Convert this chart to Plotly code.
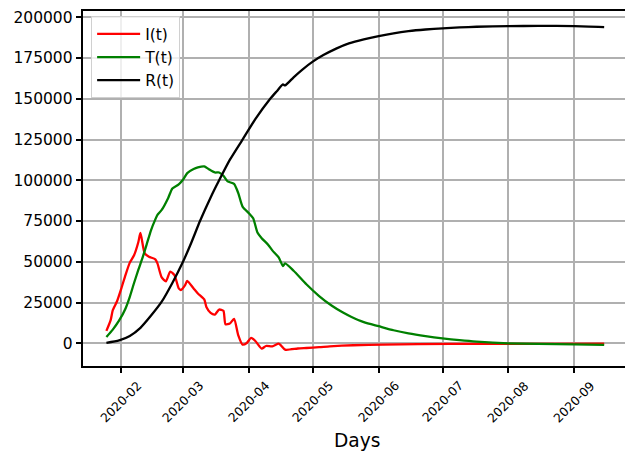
import plotly.graph_objects as go

# ---- data ----
dates_I = ["2020-01-25","2020-01-27","2020-01-28","2020-01-30","2020-02-01","2020-02-03","2020-02-05",
           "2020-02-07","2020-02-09","2020-02-10","2020-02-12","2020-02-14","2020-02-17","2020-02-18",
           "2020-02-20","2020-02-22","2020-02-24","2020-02-26","2020-02-28","2020-02-29","2020-03-02",
           "2020-03-03","2020-03-06","2020-03-08","2020-03-11","2020-03-12","2020-03-14","2020-03-16",
           "2020-03-18","2020-03-20","2020-03-21","2020-03-23","2020-03-25","2020-03-27","2020-03-29",
           "2020-03-31","2020-04-02","2020-04-04","2020-04-07","2020-04-09","2020-04-12","2020-04-15",
           "2020-04-16","2020-04-18","2020-04-24","2020-04-28","2020-05-04","2020-05-09","2020-05-20",
           "2020-06-03","2020-07-05","2020-08-05","2020-09-15"]
I_vals = [7600, 14200, 20300, 25800, 33600, 42000, 49500,
          54000, 62000, 67700, 55200, 53100, 51500, 49000,
          40400, 38000, 44000, 41800, 33700, 32700, 35700,
          38300, 33650, 30600, 26900, 22300, 18650, 17650,
          20700, 19900, 11700, 12100, 14950, 4900, -800,
          200, 3260, 1400, -3260, -1660, -1850, -200,
          -1230, -3900, -3200, -2900, -2400, -1850, -1200,
          -800, -400, -300, -200]

dates_T = ["2020-01-25","2020-01-28","2020-01-31","2020-02-03","2020-02-05","2020-02-07","2020-02-09",
           "2020-02-11","2020-02-13","2020-02-15","2020-02-17","2020-02-18","2020-02-20","2020-02-23",
           "2020-02-25","2020-02-28","2020-03-01","2020-03-03","2020-03-06","2020-03-08","2020-03-11",
           "2020-03-13","2020-03-16","2020-03-18","2020-03-20","2020-03-22","2020-03-25","2020-03-27",
           "2020-03-29","2020-04-01","2020-04-03","2020-04-05","2020-04-07","2020-04-10","2020-04-12",
           "2020-04-15","2020-04-17","2020-04-18","2020-04-22","2020-04-28","2020-05-04","2020-05-10",
           "2020-05-15","2020-05-19","2020-05-25","2020-06-01","2020-06-08","2020-06-15","2020-06-23",
           "2020-07-01","2020-07-09","2020-07-17","2020-08-01","2020-08-15","2020-09-01","2020-09-15"]
T_vals = [3900, 8400, 14000, 21400, 28500, 37000, 45000,
          52500, 61000, 69500, 76000, 78800, 81800, 89000,
          95000, 97500, 100300, 104400, 106900, 107900, 108500,
          106900, 104800, 104800, 102800, 99300, 97800, 92100,
          83900, 79800, 76700, 68000, 64500, 60500, 57000,
          52700, 47400, 49000, 44500, 36200, 29000, 23000,
          19000, 16300, 13000, 10500, 8000, 6100, 4400,
          3000, 1900, 1000, 0, -400, -700, -1000]

dates_R = ["2020-01-25","2020-01-31","2020-02-05","2020-02-10","2020-02-15","2020-02-20","2020-02-25",
           "2020-03-01","2020-03-05","2020-03-09","2020-03-14","2020-03-18","2020-03-23","2020-03-29",
           "2020-04-04","2020-04-11","2020-04-14","2020-04-17","2020-04-18","2020-04-22","2020-04-26",
           "2020-05-01","2020-05-06","2020-05-12","2020-05-18","2020-05-25","2020-06-01","2020-06-08",
           "2020-06-15","2020-06-23","2020-07-01","2020-07-09","2020-07-17","2020-08-01","2020-08-15",
           "2020-09-01","2020-09-15"]
R_vals = [300, 1800, 4500, 9500, 17000, 25500, 37000,
          50000, 62000, 75000, 89500, 100000, 112500, 125000,
          137500, 150000, 154500, 158800, 158200, 163200, 167800,
          172800, 176800, 180800, 184000, 186500, 188500, 190200,
          191500, 192500, 193200, 193800, 194200, 194600, 194700,
          194600, 194000]

month_ticks = ["2020-02-01","2020-03-01","2020-04-01","2020-05-01",
               "2020-06-01","2020-07-01","2020-08-01","2020-09-01"]
month_labels = ["2020-02","2020-03","2020-04","2020-05",
                "2020-06","2020-07","2020-08","2020-09"]
y_ticks = [0, 25000, 50000, 75000, 100000, 125000, 150000, 175000, 200000]

FONT = "DejaVu Sans"

fig = go.Figure()
for xs, ys, nm, col in [(dates_I, I_vals, "I(t)", "#ff0000"),
                        (dates_T, T_vals, "T(t)", "#008000"),
                        (dates_R, R_vals, "R(t)", "#000000")]:
    fig.add_trace(go.Scatter(x=xs, y=ys, mode="lines", name=nm,
                             line=dict(color=col, width=2.3, shape="spline", smoothing=0.6)))

annotations = []
for d, lab in zip(month_ticks, month_labels):
    annotations.append(dict(x=d, xref="x", y=-0.03, yref="paper", text=lab,
                            textangle=-45, xanchor="center", yanchor="top",
                            showarrow=False, borderpad=0,
                            font=dict(family=FONT, size=12.4, color="black")))
annotations.append(dict(x=0.5055, xref="paper", y=-0.211, yref="paper", text="Days",
                        xanchor="center", yanchor="middle", showarrow=False,
                        font=dict(family=FONT, size=18.6, color="black")))

fig.update_layout(
    width=625, height=453,
    margin=dict(l=83, r=0, t=11, b=87),
    paper_bgcolor="white", plot_bgcolor="white",
    font=dict(family=FONT, color="black"),
    annotations=annotations,
    legend=dict(x=0.015, y=0.985, xanchor="left", yanchor="top",
                bgcolor="rgba(255,255,255,0.8)", bordercolor="#d0d0d0", borderwidth=1,
                font=dict(family=FONT, size=15.5, color="black"), itemwidth=43),
    xaxis=dict(type="date", range=["2020-01-14 00:00", "2020-09-24 19:00"],
               tickvals=month_ticks, showticklabels=False,
               ticks="outside", ticklen=5.4, tickwidth=1.5, tickcolor="black",
               showgrid=True, gridcolor="#b0b0b0", gridwidth=1.7,
               showline=True, linecolor="black", linewidth=1.8, mirror=True,
               zeroline=False),
    yaxis=dict(range=[-13930, 203860], tickvals=y_ticks, tickformat="d",
               ticks="outside", ticklen=5.4, tickwidth=1.5, tickcolor="black",
               tickfont=dict(family=FONT, size=15.5, color="black"),
               showgrid=True, gridcolor="#b0b0b0", gridwidth=1.7,
               showline=True, linecolor="black", linewidth=1.8, mirror=False,
               zeroline=False),
)

fig.write_html("out.html")
